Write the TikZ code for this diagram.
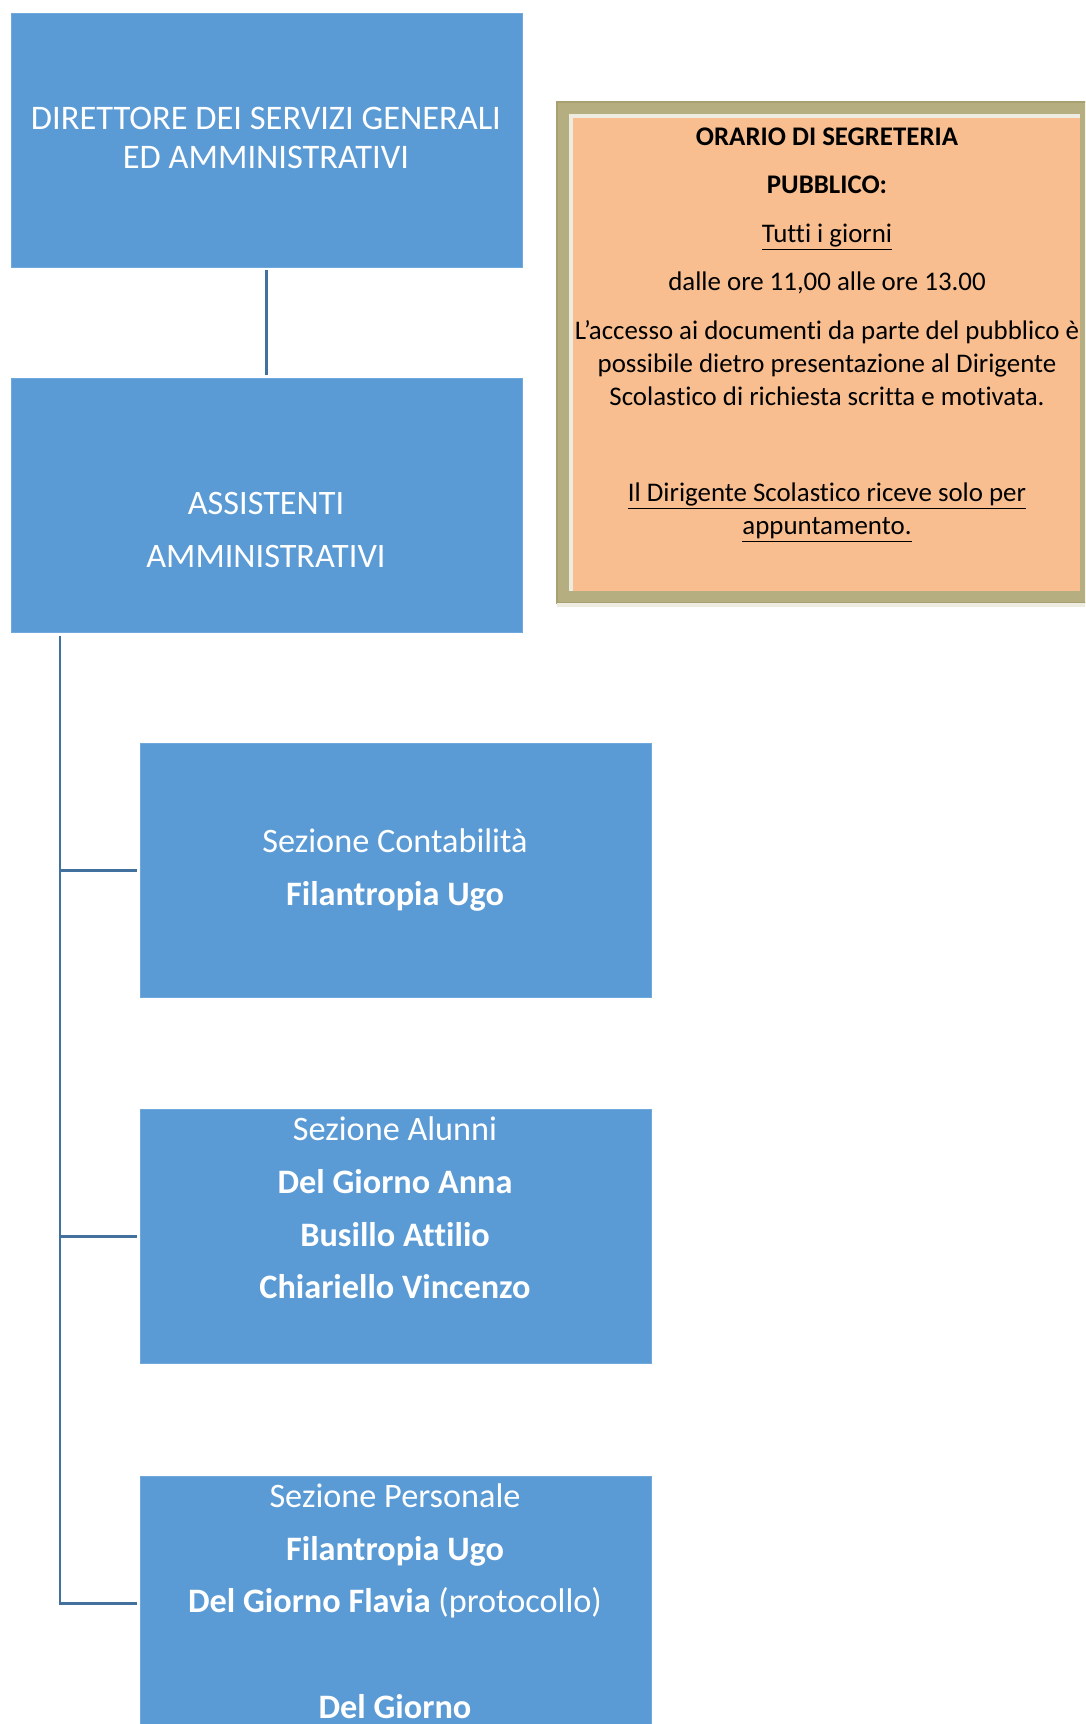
\documentclass[tikz,border=0pt]{standalone}
\usepackage{fontspec}
\setmainfont[Ligatures=NoCommon]{Carlito}
\usetikzlibrary{positioning}
\definecolor{boxblue}{HTML}{5B9BD5}
\definecolor{boxline}{HTML}{6FA8DC}
\definecolor{linkblue}{HTML}{41719C}
\definecolor{notepeach}{HTML}{F8BE8F}
\definecolor{framekhaki}{HTML}{B5AE80}
\definecolor{framedark}{HTML}{A8A070}
\definecolor{framecream}{HTML}{EEECE1}
\tikzset{
    unit/.style={fill=boxblue,draw=boxline,line width=0.3pt,anchor=north west,inner sep=0pt,minimum width=102.2mm,minimum height=50.7mm},
    unittext/.style={text=white,align=center,font=\fontsize{19.5}{30}\selectfont},
    link/.style={draw=linkblue,line width=1.7pt}
}
\begin{document}
\begin{tikzpicture}[x=0.2mm,y=-0.2mm]
        \clip(0,0) rectangle (1085,1724);
        \fill[white](0,0) rectangle (1085,1724);
        % boxes
        \node[unit](dsga) at (11,13) {};
        \node[unit](assist) at (11,378) {};
        \node[unit](contab) at (140,743) {};
        \node[unit](alunni) at (140,1109) {};
        \node[unit](personale) at (140,1476) {};
        \node[unittext,font=\fontsize{19.6}{22}\selectfont](dsgaT) at (266,138) {DIRETTORE DEI SERVIZI GENERALI\\ED AMMINISTRATIVI};
        \node[unittext](assistT) at (266,530) {ASSISTENTI\\AMMINISTRATIVI};
        \node[unittext](contabT) at (395,870) {Sezione Contabilità\\\textbf{Filantropia Ugo}};
        \node[unittext](alunniT) at (395,1208) {Sezione Alunni\\\textbf{Del Giorno Anna}\\\textbf{Busillo Attilio}\\\textbf{Chiariello Vincenzo}};
        \node[unittext](personaleT) at (395,1601) {Sezione Personale\\\textbf{Filantropia Ugo}\\\textbf{Del Giorno Flavia} (protocollo)\\\mbox{}\\\textbf{Del Giorno}};
        % connectors
        \draw[link,shorten <=0.6mm,shorten >=0.6mm](dsga.south) -- (assist.north);
        \coordinate(spine) at ([xshift=9.8mm,yshift=-0.8mm]assist.south west);
        \draw[link,shorten >=0.6mm](spine) |- (contab.west);
        \draw[link,shorten >=0.6mm](spine) |- (alunni.west);
        \draw[link,shorten >=0.6mm](spine) |- (personale.west);
        % orario
        \fill[framekhaki,draw=framedark,line width=1.2pt](557,102) rectangle (1100,603);
        \fill[framecream](557,603) rectangle (1100,607);
        \fill[framecream](569,114) rectangle (1080,591);
        \node[fill=notepeach,anchor=north west,inner sep=0pt,minimum width=101.4mm,minimum height=94.6mm](orario) at (573,118) {};
        \node[align=center,font=\fontsize{15.3}{18.8}\selectfont](orarioT) at (827,335) {\textbf{ORARIO DI SEGRETERIA}\\[8.8pt]\textbf{PUBBLICO:}\\[8.8pt]\underline{Tutti i giorni}\\[8.8pt]dalle ore 11,00 alle ore 13.00\\[8.8pt]L’accesso ai documenti da parte del pubblico è\\possibile dietro presentazione al Dirigente\\Scolastico di richiesta scritta e motivata.\\[35.7pt]\underline{Il Dirigente Scolastico riceve solo per}\\\underline{appuntamento.}};
    \end{tikzpicture}
\end{document}
